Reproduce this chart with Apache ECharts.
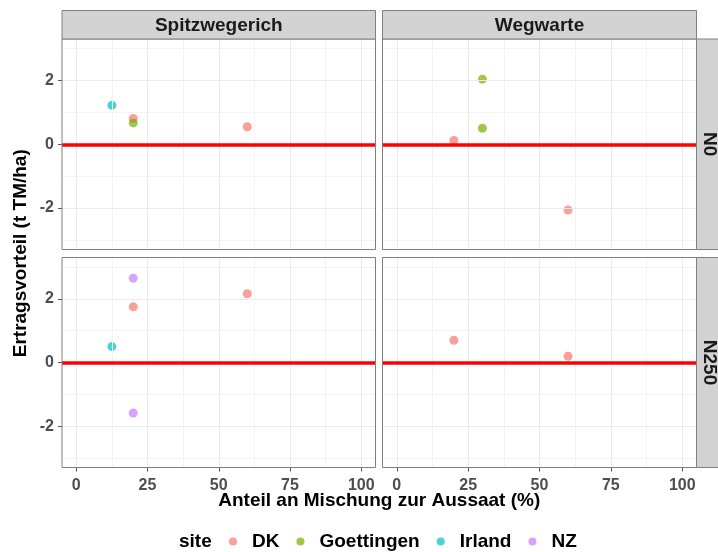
<!DOCTYPE html>
<html>
<head>
<meta charset="utf-8">
<script src="https://cdn.jsdelivr.net/npm/echarts@6/dist/echarts.min.js"></script>
<style>
  html, body { margin: 0; padding: 0; background: #ffffff; }
  #chart { width: 718px; height: 552px; }
</style>
</head>
<body>
<div id="chart"></div>
<script>
// Facets: columns = plant, rows = N level
const plants = ['Spitzwegerich', 'Wegwarte'];
const nLevels = ['N0', 'N250'];
const sites = ['DK', 'Goettingen', 'Irland', 'NZ'];
const siteColors = ['#F8766D', '#7CAE00', '#00BFC4', '#C77CFF'];

// Axis ticks and grid positions
const xTicks = [0, 25, 50, 75, 100];
const xMinor = [12.5, 37.5, 62.5, 87.5];
const yTicks = [-2, 0, 2];
const yMinor = [-3, -1, 1, 3];

// Observations (one entry per point)
const obsPlant = ['Spitzwegerich', 'Spitzwegerich', 'Spitzwegerich', 'Spitzwegerich',
                  'Wegwarte', 'Wegwarte', 'Wegwarte', 'Wegwarte',
                  'Spitzwegerich', 'Spitzwegerich', 'Spitzwegerich', 'Spitzwegerich', 'Spitzwegerich',
                  'Wegwarte', 'Wegwarte'];
const obsN = ['N0', 'N0', 'N0', 'N0',
              'N0', 'N0', 'N0', 'N0',
              'N250', 'N250', 'N250', 'N250', 'N250',
              'N250', 'N250'];
const obsSite = ['Irland', 'DK', 'Goettingen', 'DK',
                 'Goettingen', 'Goettingen', 'DK', 'DK',
                 'NZ', 'DK', 'DK', 'Irland', 'NZ',
                 'DK', 'DK'];
const obsAnteil = [12.5, 20, 20, 60,
                   30, 30, 20, 60,
                   20, 20, 60, 12.5, 20,
                   20, 60];
const obsVorteil = [1.22, 0.81, 0.67, 0.55,
                    2.04, 0.50, 0.12, -2.06,
                    2.65, 1.75, 2.16, 0.50, -1.59,
                    0.70, 0.20];

const FONT = '"Liberation Sans", Arial, Helvetica, sans-serif';
const X_MIN = -5, X_MAX = 105;   // limits 0..100 plus 5% padding
const Y_MIN = -3.3, Y_MAX = 3.3; // limits -3..3 plus 5% padding

const colLeft = [62, 382.5];
const colWidth = [313.5, 314];
const rowTop = [39, 257.5];
const rowHeight = [210.5, 210];
const stripH = 28.5;
const stripW = 30;

const grids = [], xAxes = [], yAxes = [], series = [], graphics = [];

function gridLineSeries(idx, xs, ys, color, z) {
  return {
    type: 'scatter', xAxisIndex: idx, yAxisIndex: idx, data: [], z: z, silent: true,
    markLine: {
      silent: true, symbol: ['none', 'none'], animation: false,
      label: { show: false },
      lineStyle: { color: color, width: 1, type: 'solid' },
      emphasis: { disabled: true },
      data: xs.map(function (v) { return { xAxis: v }; })
            .concat(ys.map(function (v) { return { yAxis: v }; }))
    }
  };
}

nLevels.forEach(function (nl, r) {
  plants.forEach(function (pl, c) {
    const idx = grids.length;
    grids.push({
      left: colLeft[c], top: rowTop[r], width: colWidth[c], height: rowHeight[r],
      show: true, borderWidth: 0, backgroundColor: '#ffffff',
      containLabel: false
    });
    const bottomRow = r === nLevels.length - 1;
    const leftCol = c === 0;
    xAxes.push({
      type: 'value', gridIndex: idx, min: X_MIN, max: X_MAX, position: 'bottom',
      axisLine: { show: false, onZero: false },
      axisTick: { show: bottomRow, customValues: xTicks, interval: 0, length: 4,
                  lineStyle: { color: '#555555', width: 1 } },
      axisLabel: { show: bottomRow, customValues: xTicks, interval: 0, margin: 10, color: '#4d4d4d',
                   fontFamily: FONT, fontWeight: 'bold', fontSize: 16 },
      splitLine: { show: false }
    });
    yAxes.push({
      type: 'value', gridIndex: idx, min: Y_MIN, max: Y_MAX, position: 'left',
      axisLine: { show: false, onZero: false },
      axisTick: { show: leftCol, customValues: yTicks, interval: 0, length: 4,
                  lineStyle: { color: '#555555', width: 1 } },
      axisLabel: { show: leftCol, customValues: yTicks, interval: 0, margin: 8, color: '#4d4d4d',
                   fontFamily: FONT, fontWeight: 'bold', fontSize: 16 },
      splitLine: { show: false }
    });

    // minor, then major grid lines
    series.push(gridLineSeries(idx, xMinor, yMinor, '#f3f3f3', 1));
    series.push(gridLineSeries(idx, xTicks, yTicks, '#ebebeb', 2));

    // points by site
    sites.forEach(function (s, k) {
      const pts = [];
      for (let i = 0; i < obsSite.length; i++) {
        if (obsPlant[i] === pl && obsN[i] === nl && obsSite[i] === s) {
          pts.push([obsAnteil[i], obsVorteil[i]]);
        }
      }
      series.push({
        name: s, type: 'scatter', xAxisIndex: idx, yAxisIndex: idx, z: 3,
        symbol: 'circle', symbolSize: 9,
        itemStyle: { color: siteColors[k], opacity: 0.7 },
        emphasis: { disabled: true },
        data: pts
      });
    });

    // zero reference line
    series.push({
      type: 'scatter', xAxisIndex: idx, yAxisIndex: idx, data: [], z: 5, silent: true,
      markLine: {
        silent: true, symbol: ['none', 'none'], animation: false,
        label: { show: false },
        lineStyle: { color: '#ff0000', width: 3.5, type: 'solid' },
        emphasis: { disabled: true },
        data: [{ yAxis: 0 }]
      }
    });

    // panel border on top of the data
    graphics.push({
      type: 'rect', z: 8, silent: true,
      shape: { x: colLeft[c], y: rowTop[r], width: colWidth[c], height: rowHeight[r] },
      style: { fill: null, stroke: '#7f7f7f', lineWidth: 1 }
    });

    // column strips
    if (r === 0) {
      graphics.push({
        type: 'rect', z: 10,
        shape: { x: colLeft[c], y: rowTop[0] - stripH, width: colWidth[c], height: stripH },
        style: { fill: '#d3d3d3', stroke: '#808080', lineWidth: 1 }
      });
      graphics.push({
        type: 'text', z: 11,
        x: colLeft[c] + colWidth[c] / 2, y: rowTop[0] - stripH / 2 + 1.5,
        style: { text: pl, fill: '#1a1a1a', font: 'bold 19px ' + FONT,
                 textAlign: 'center', textVerticalAlign: 'middle' }
      });
    }
    // row strips
    if (c === plants.length - 1) {
      const sx = colLeft[c] + colWidth[c];
      graphics.push({
        type: 'rect', z: 10,
        shape: { x: sx, y: rowTop[r], width: stripW, height: rowHeight[r] },
        style: { fill: '#d3d3d3', stroke: '#808080', lineWidth: 1 }
      });
      graphics.push({
        type: 'text', z: 11,
        x: sx + 12.5, y: rowTop[r] + rowHeight[r] / 2, rotation: -Math.PI / 2,
        style: { text: nl, fill: '#1a1a1a', font: 'bold 19px ' + FONT,
                 textAlign: 'center', textVerticalAlign: 'middle' }
      });
    }
  });
});

// shared axis titles and legend title
graphics.push({
  type: 'text', z: 11, x: (colLeft[0] + colLeft[1] + colWidth[1]) / 2, y: 501,
  style: { text: 'Anteil an Mischung zur Aussaat (%)', fill: '#000000', font: 'bold 19px ' + FONT,
           textAlign: 'center', textVerticalAlign: 'middle' }
});
graphics.push({
  type: 'text', z: 11, x: 21, y: (rowTop[0] + rowTop[1] + rowHeight[1]) / 2, rotation: Math.PI / 2,
  style: { text: 'Ertragsvorteil (t TM/ha)', fill: '#000000', font: 'bold 19px ' + FONT,
           textAlign: 'center', textVerticalAlign: 'middle' }
});
graphics.push({
  type: 'text', z: 11, x: 179, y: 542,
  style: { text: 'site', fill: '#000000', font: 'bold 19px ' + FONT,
           textAlign: 'left', textVerticalAlign: 'middle' }
});

const chart = echarts.init(document.getElementById('chart'), null, { renderer: 'canvas' });
chart.setOption({
  animation: false,
  backgroundColor: '#ffffff',
  grid: grids,
  xAxis: xAxes,
  yAxis: yAxes,
  legend: {
    data: sites.map(function (s, k) { return { name: s, icon: 'circle', itemStyle: { color: siteColors[k], opacity: 0.7 } }; }),
    left: 229, top: 532, orient: 'horizontal', padding: 0,
    itemWidth: 8, itemHeight: 8, itemGap: 17,
    selectedMode: false,
    textStyle: { fontFamily: FONT, fontWeight: 'bold', fontSize: 19, color: '#000000',
                 padding: [1, 0, 0, 10] }
  },
  graphic: graphics,
  series: series
});
</script>
</body>
</html>
